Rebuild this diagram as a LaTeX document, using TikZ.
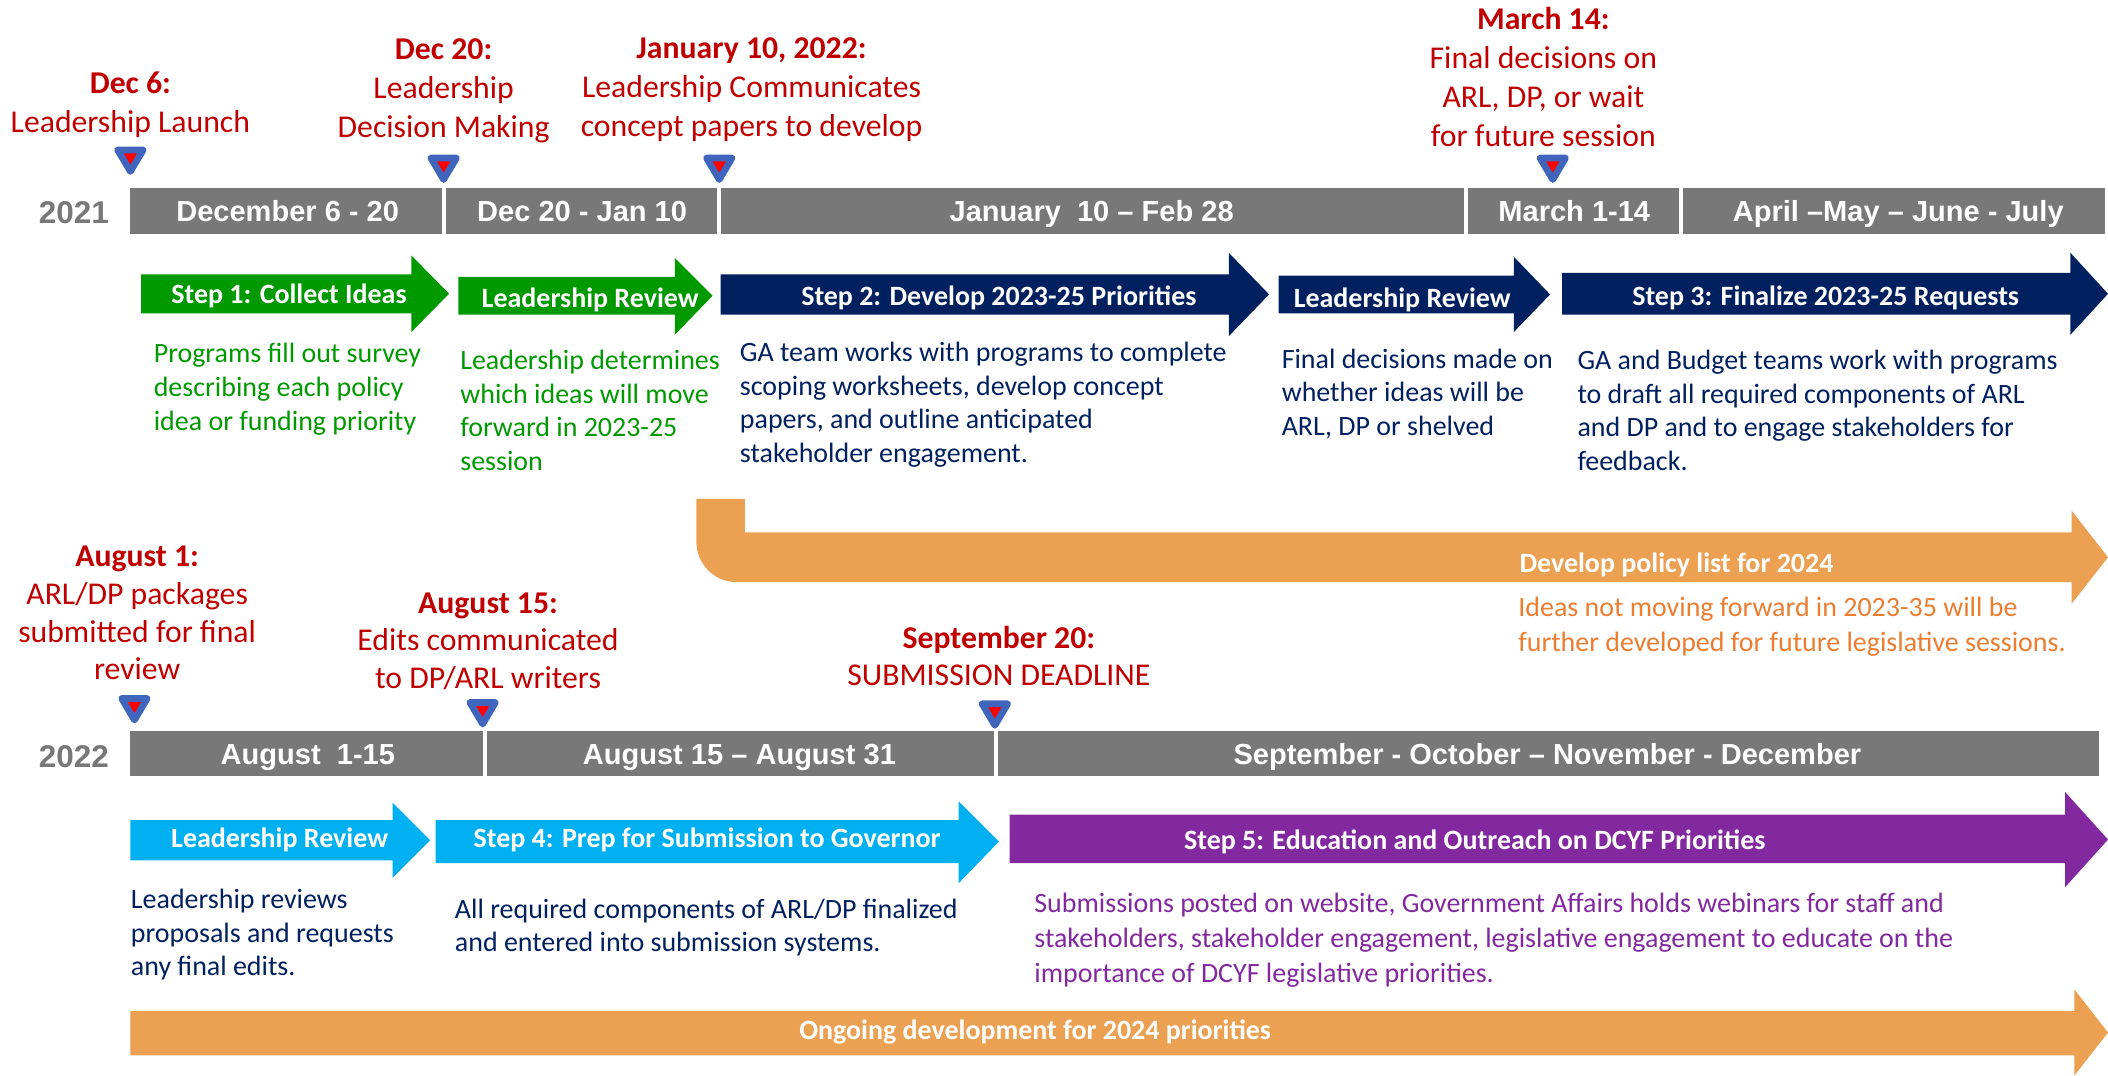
\documentclass[tikz,border=0pt]{standalone}
\usepackage{fontspec}
\setmainfont{Carlito}
\newfontfamily\arialfont{Liberation Sans}
\definecolor{datered}{HTML}{C00000}
\definecolor{bargray}{HTML}{787878}
\definecolor{stepgreen}{HTML}{009900}
\definecolor{stepnavy}{HTML}{002060}
\definecolor{stepcyan}{HTML}{00B0F0}
\definecolor{steppurple}{HTML}{8329A0}
\definecolor{planorange}{HTML}{EBA052}
\definecolor{noteorange}{HTML}{ED7D31}
\definecolor{markblue}{HTML}{3F66BC}

\begin{document}
\begin{tikzpicture}[x=0.5pt,y=-0.5pt,
  seg/.style={fill=bargray},
  seglbl/.style={anchor=base,inner sep=0pt,text=white,font=\arialfont\bfseries\fontsize{10.8}{13}\selectfont},
  yearlbl/.style={inner sep=0pt,text=bargray,font=\arialfont\bfseries\fontsize{11.7}{14}\selectfont},
  datelbl/.style={align=center,inner sep=0pt,text=datered,font=\fontsize{11.8}{14.5}\selectfont},
  marker/.style={fill=red,draw=markblue,line width=2.5pt,line join=round},
  steplbl/.style={anchor=base,inner sep=0pt,text=white,font=\bfseries\fontsize{10.4}{12.5}\selectfont},
  desc/.style={align=left,anchor=north west,inner sep=0pt,font=\fontsize{10.4}{12.5}\selectfont}]
\useasboundingbox[fill=white] (0,0) rectangle (1568,800);
% Drawing date labels and markers
% Row 2021
\node[datelbl] (d1) at (97,78) {\textbf{Dec 6:}\\Leadership Launch};
\node[datelbl] (d2) at (330,67.5) {\textbf{Dec 20:}\\Leadership\\Decision Making};
\node[datelbl] (d3) at (559,67) {\textbf{January 10, 2022:}\\Leadership Communicates\\concept papers to develop};
\node[datelbl] (d4) at (1148,57) {\textbf{March 14:}\\Final decisions on\\ARL, DP, or wait\\for future session};
\coordinate (m1) at (97,127.5);
\coordinate (m2) at (330,133.5);
\coordinate (m3) at (535,133.5);
\coordinate (m4) at (1155,133.5);
\foreach \m in {m1,m2,m3,m4}
  \filldraw[marker] (\m) -- ++(-9.5,-16) -- ++(19,0) -- cycle;
% Row 2022
\node[datelbl,font=\fontsize{11.8}{14}\selectfont] (d5) at (102,456) {\textbf{August 1:}\\ARL/DP packages\\submitted for final\\review};
\node[datelbl,font=\fontsize{11.8}{14}\selectfont] (d6) at (363,477) {\textbf{August 15:}\\Edits communicated\\to DP/ARL writers};
\node[datelbl,font=\fontsize{11.8}{14}\selectfont] (d7) at (743,488) {\textbf{September 20:}\\SUBMISSION DEADLINE};
\coordinate (m5) at (100,535.5);
\coordinate (m6) at (359,538.5);
\coordinate (m7) at (740,539.5);
\foreach \m in {m5,m6,m7}
  \filldraw[marker] (\m) -- ++(-9.5,-16) -- ++(19,0) -- cycle;
% Done with markers; drawing bars
\node[yearlbl] (y1) at (55,158) {2021};
\fill[seg] (97,140) rectangle (329,174);
\fill[seg] (332,140) rectangle (533,174);
\fill[seg] (536,140) rectangle (1089,174);
\fill[seg] (1092,140) rectangle (1249,174);
\fill[seg] (1252,140) rectangle (1566,174);
\node[seglbl] (s1) at (214,165) {December 6 - 20};
\node[seglbl] (s2) at (433,165) {Dec 20 - Jan 10};
\node[seglbl] (s3) at (812,165) {January\ \ 10 – Feb 28};
\node[seglbl] (s4) at (1171,165) {March 1-14};
\node[seglbl] (s5) at (1412,165) {April –May – June - July};
\node[yearlbl] (y2) at (55,563) {2022};
\fill[seg] (97,544) rectangle (359,577);
\fill[seg] (362,544) rectangle (739,577);
\fill[seg] (742,544) rectangle (1561,577);
\node[seglbl] (s6) at (229,569) {August\ \ 1-15};
\node[seglbl] (s7) at (550,569) {August 15 – August 31};
\node[seglbl] (s8) at (1151,569) {September - October – November - December};
% Done with bars; drawing step arrows
\fill[stepgreen] (105,204) -- (306,204) -- (306,190) -- (334,218.5) -- (306,247) -- (306,233) -- (105,233) -- cycle;
\node[steplbl] (a1) at (215,225.5) {Step 1: Collect Ideas};
\fill[stepgreen] (341,206) -- (502,206) -- (502,192) -- (530,220) -- (502,249) -- (502,234) -- (341,234) -- cycle;
\node[steplbl] (a2) at (439,228.5) {Leadership Review};
\fill[stepnavy] (536,204) -- (914,204) -- (914,188) -- (944,219) -- (914,250) -- (914,234) -- (536,234) -- cycle;
\node[steplbl] (a3) at (743,227.5) {Step 2: Develop 2023-25 Priorities};
\fill[stepnavy] (951,205) -- (1126,205) -- (1126,191) -- (1153,219) -- (1126,247) -- (1126,233) -- (951,233) -- cycle;
\node[steplbl] (a4) at (1043,228.5) {Leadership Review};
\fill[stepnavy] (1162,203) -- (1540,203) -- (1540,188) -- (1568,218.5) -- (1540,249) -- (1540,234) -- (1162,234) -- cycle;
\node[steplbl] (a5) at (1358,227.5) {Step 3: Finalize 2023-25 Requests};
\fill[stepcyan] (97,610) -- (292,610) -- (292,597) -- (320,625) -- (292,653) -- (292,640) -- (97,640) -- cycle;
\node[steplbl] (a6) at (208,630.5) {Leadership Review};
\fill[stepcyan] (324,610) -- (713,610) -- (713,596) -- (743,626) -- (713,657) -- (713,642) -- (324,642) -- cycle;
\node[steplbl] (a7) at (526,630.5) {Step 4: Prep for Submission to Governor};
\fill[steppurple] (751,606) -- (1536,606) -- (1536,589) -- (1568,624.5) -- (1536,660) -- (1536,642) -- (751,642) -- cycle;
\node[steplbl] (a8) at (1097,631.5) {Step 5: Education and Outreach on DCYF Priorities};
% Done with step arrows; drawing policy arrows
\fill[planorange] (518,371) -- (554,371) -- (554,396) -- (1541,396) -- (1541,380) -- (1568,414.5) -- (1541,449) -- (1541,433) -- (548,433) .. controls (531.4,433) and (518,419.6) .. (518,403) -- cycle;
\node[steplbl] (p1) at (1247,425.5) {Develop policy list for 2024};
\fill[planorange] (97,752) -- (1543,752) -- (1543,736) -- (1568,768) -- (1543,800) -- (1543,785) -- (97,785) -- cycle;
\node[steplbl] (p2) at (770,773.5) {Ongoing development for 2024 priorities};
% Done with arrows; drawing descriptions
\node[desc,text=stepgreen] (t1) at (114,255) {Programs fill out survey\\describing each policy\\idea or funding priority};
\node[desc,text=stepgreen] (t2) at (342,260) {Leadership determines\\which ideas will move\\forward in 2023-25\\session};
\node[desc,text=stepnavy] (t3) at (550,254) {GA team works with programs to complete\\scoping worksheets, develop concept\\papers, and outline anticipated\\stakeholder engagement.};
\node[desc,text=stepnavy] (t4) at (953,259) {Final decisions made on\\whether ideas will be\\ARL, DP or shelved};
\node[desc,text=stepnavy] (t5) at (1173,260) {GA and Budget teams work with programs\\to draft all required components of ARL\\and DP and to engage stakeholders for\\feedback.};
\node[desc,text=noteorange,font=\fontsize{10.4}{13}\selectfont] (t6) at (1129,444) {Ideas not moving forward in 2023-35 will be\\further developed for future legislative sessions.};
\node[desc,text=stepnavy] (t7) at (97,661) {Leadership reviews\\proposals and requests\\any final edits.};
\node[desc,text=stepnavy] (t8) at (338,668) {All required components of ARL/DP finalized\\and entered into submission systems.};
\node[desc,text=steppurple,font=\fontsize{10.4}{13}\selectfont] (t9) at (769,664) {Submissions posted on website, Government Affairs holds webinars for staff and\\stakeholders, stakeholder engagement, legislative engagement to educate on the\\importance of DCYF legislative priorities.};
% Done with descriptions
\end{tikzpicture}
\end{document}
